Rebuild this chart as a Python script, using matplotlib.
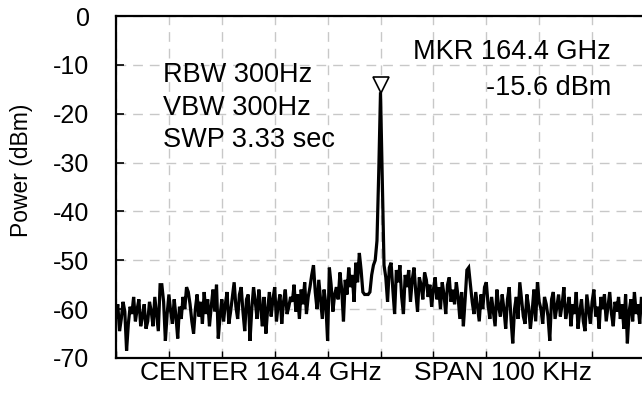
import numpy as np
import matplotlib
matplotlib.use('Agg')
import matplotlib.pyplot as plt

plt.rcParams['font.family'] = ['Liberation Sans', 'DejaVu Sans']

# frequency offset from centre, kHz (span 100 kHz, 301 sweep points)
span_khz = 100
n_points = 301

# trace values in dBm left to right
seg_a = [-61.5, -59.0, -64.5, -62.0, -58.5, -60.5, -68.5, -63.0, -59.5, -61.0, -57.5, -62.5, -60.0,
         -58.0, -63.5, -61.5, -59.0, -64.0, -62.5, -58.5, -60.5, -63.5, -57.5, -61.0, -64.5]
seg_b = [-55.0, -55.0, -58.5, -66.5, -61.0, -57.0, -60.5, -63.0, -58.0, -61.5, -66.0, -59.5, -62.0,
         -57.5, -60.0, -55.5, -56.5, -59.0, -62.5, -65.0, -60.0, -57.0, -61.5, -58.5, -63.0]
seg_c = [-56.5, -61.0, -58.0, -63.5, -59.5, -56.0, -60.5, -55.0, -66.0, -61.5, -58.0, -62.5, -59.0,
         -56.5, -63.0, -60.5, -57.5, -54.5, -59.5, -62.0, -57.0, -55.5, -60.5, -64.5, -58.0]
seg_d = [-57.0, -66.5, -60.0, -55.5, -58.5, -62.0, -56.0, -59.5, -63.5, -57.5, -65.0, -60.0, -56.5,
         -61.5, -58.0, -55.5, -62.5, -59.0, -57.0, -63.0, -58.5, -56.0, -61.0, -59.5, -57.5]
seg_e = [-58.5, -55.0, -60.5, -57.0, -62.0, -56.0, -59.0, -54.5, -61.0, -57.5, -55.5, -53.0, -51.0,
         -56.5, -60.0, -54.0, -58.0, -62.0, -56.0, -59.0, -66.5, -51.5, -55.0, -60.5, -57.0]
seg_f = [-55.5, -58.0, -52.5, -56.0, -62.5, -54.0, -57.0, -51.5, -55.5, -53.0, -58.5, -50.5, -54.5,
         -48.5, -52.0, -56.5, -57.0, -57.0, -57.0, -56.5, -53.0, -51.0, -50.0, -46.0, -32.0]
peak = [-15.6]
seg_g = [-33.0, -51.0, -53.5, -58.5, -51.5, -50.5, -56.0, -61.0, -52.0, -54.5, -51.0, -57.5, -61.0,
         -53.0, -55.5, -52.0, -58.5, -54.0, -51.5, -56.5, -60.5, -53.5, -55.0, -58.0, -52.5]
seg_h = [-54.0, -57.5, -55.0, -59.5, -56.0, -53.5, -58.0, -55.5, -60.0, -54.5, -57.0, -61.0, -55.0,
         -53.5, -58.5, -56.0, -59.0, -54.5, -57.5, -62.0, -56.5, -63.5, -58.0, -52.0, -51.5]
seg_i = [-55.0, -58.5, -61.0, -56.5, -59.5, -62.5, -57.0, -60.0, -55.5, -54.5, -59.0, -62.0, -57.5,
         -60.5, -63.5, -56.0, -59.5, -61.5, -57.0, -60.0, -64.0, -58.0, -55.5, -62.0, -67.0]
seg_j = [-60.0, -57.5, -62.0, -54.5, -58.0, -61.5, -63.0, -57.0, -59.5, -64.0, -60.5, -56.0, -62.5,
         -54.5, -58.5, -60.0, -63.0, -57.5, -59.0, -61.5, -66.5, -58.0, -56.5, -62.0, -59.5]
seg_k = [-57.0, -61.5, -59.0, -55.5, -62.0, -60.0, -57.5, -63.5, -59.0, -61.0, -56.5, -64.0, -60.5,
         -58.0, -62.5, -64.5, -57.0, -60.0, -63.0, -58.5, -56.0, -61.5, -59.5, -64.0, -57.5]
seg_l = [-60.0, -57.0, -62.5, -59.5, -56.5, -61.0, -63.5, -58.5, -60.5, -57.5, -62.0, -59.0, -64.0,
         -57.0, -67.0, -60.5, -58.0, -62.5, -56.5, -61.0, -59.0, -63.0, -57.5, -60.5, -58.5]

power = np.array(seg_a + seg_b + seg_c + seg_d + seg_e + seg_f + peak +
                 seg_g + seg_h + seg_i + seg_j + seg_k + seg_l)
freq = np.linspace(-span_khz / 2, span_khz / 2, n_points)

yticks = [0, -10, -20, -30, -40, -50, -60, -70]
marker_freq = 0.0
marker_level = -15.6

fig = plt.figure(figsize=(6.42, 4.03), dpi=100)
ax = fig.add_axes([116 / 642, 1 - 358 / 403, 529 / 642, 342 / 403])

ax.plot(freq, power, color='black', lw=2.3, solid_joinstyle='miter')
ax.plot([marker_freq], [marker_level + 1.5], marker='v', ms=11, mfc='white',
        mec='black', mew=1.2, ls='none')

ax.set_xlim(-span_khz / 2, span_khz / 2)
ax.set_ylim(-70, 0)
ax.set_xticks(np.linspace(-span_khz / 2, span_khz / 2, 11))
ax.set_xticklabels([])
ax.set_yticks(yticks)
ax.set_yticklabels([str(t) for t in yticks], fontsize=18)
ax.tick_params(axis='y', direction='in', length=6, width=1.2, pad=19)
ax.tick_params(axis='x', direction='in', length=5, width=1.0)
ax.grid(True, color='#c8c8c8', ls=(0, (7, 5)), lw=1.0)
for sp in ax.spines.values():
    sp.set_linewidth(1.6)

fig.text(22 / 642, 1 - 170 / 403, 'Power (dBm)', rotation=90, fontsize=16.5,
         ha='center', va='center')
fig.text(140 / 642, 1 - 380 / 403, 'CENTER 164.4 GHz', fontsize=19, ha='left', va='baseline')
fig.text(592 / 642, 1 - 380 / 403, 'SPAN 100 KHz', fontsize=19, ha='right', va='baseline')

fig.text(163 / 642, 1 - 82 / 403, 'RBW 300Hz', fontsize=19.5, ha='left', va='baseline')
fig.text(163 / 642, 1 - 115 / 403, 'VBW 300Hz', fontsize=19.5, ha='left', va='baseline')
fig.text(163 / 642, 1 - 147 / 403, 'SWP 3.33 sec', fontsize=19.5, ha='left', va='baseline')
fig.text(611 / 642, 1 - 59 / 403, 'MKR 164.4 GHz', fontsize=19.5, ha='right', va='baseline')
fig.text(611 / 642, 1 - 95 / 403, '-15.6 dBm', fontsize=19.5, ha='right', va='baseline')

fig.savefig('out.png', dpi=100)
